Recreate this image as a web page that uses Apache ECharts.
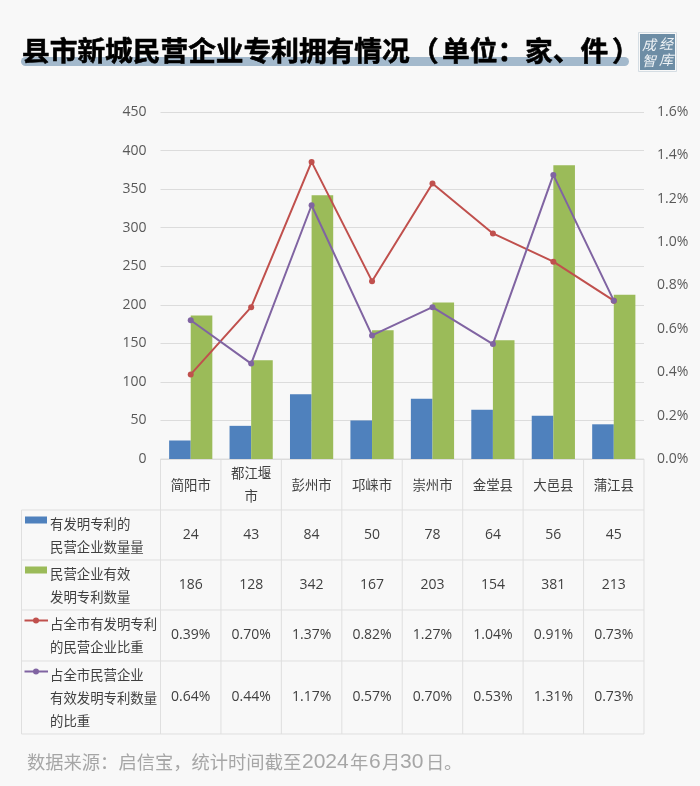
<!DOCTYPE html>
<html>

	<head>
		<meta charset="UTF-8">
		<title>县市新城民营企业专利拥有情况</title>
		<style type="text/css">
			html, body {
				margin: 0;
				padding: 0;
				background: #f8f8f8;
			}

			#basebox {
				width: 700px;
				height: 786px;
			}
		</style>
		<script src="https://cdn.jsdelivr.net/npm/echarts@6/dist/echarts.min.js"></script>
	</head>

	<body>
		<div id="basebox"></div>

		<script>
			// 图表数据
			var categories = ['简阳市', '都江堰\n市', '彭州市', '邛崃市', '崇州市', '金堂县', '大邑县', '蒲江县'];
			var firmCount = [24, 43, 84, 50, 78, 64, 56, 45];
			var patentCount = [186, 128, 342, 167, 203, 154, 381, 213];
			var firmShare = [0.39, 0.70, 1.37, 0.82, 1.27, 1.04, 0.91, 0.73];
			var patentShare = [0.64, 0.44, 1.17, 0.57, 0.70, 0.53, 1.31, 0.73];
			var seriesNames = ['有发明专利的民营企业数量量', '民营企业有效发明专利数量', '占全市有发明专利的民营企业比重', '占全市民营企业有效发明专利数量的比重'];

			// 表头文字（按原图换行）
			var rowHeads = [
				['有发明专利的', '民营企业数量量'],
				['民营企业有效', '发明专利数量'],
				['占全市有发明专利', '的民营企业比重'],
				['占全市民营企业', '有效发明专利数量', '的比重']
			];

			var BLUE = '#4f81bd', GREEN = '#9bbb59', RED = '#c0504d', PURPLE = '#8064a2';
			var FONT = '"Open Sans", "Noto Sans CJK SC", sans-serif';
			var CJK = '"Noto Sans CJK SC", sans-serif';

			// 布局
			var gridLeft = 160.5, gridRight = 644, gridTop = 112, gridBottom = 459;
			var tableLeft = 21.5;
			var rowLines = [510, 560, 610, 661, 734];
			var cellW = (gridRight - gridLeft) / categories.length;

			function pct(v) {
				return v.toFixed(2) + '%';
			}
			var rowCells = [
				firmCount.map(String),
				patentCount.map(String),
				firmShare.map(pct),
				patentShare.map(pct)
			];
			var rowColors = [BLUE, GREEN, RED, PURPLE];

			function hline(x1, x2, y) {
				return {type: 'line', silent: true, shape: {x1: x1, y1: y, x2: x2, y2: y}, style: {stroke: '#dfdfdf', lineWidth: 1}};
			}
			function vline(x, y1, y2) {
				return {type: 'line', silent: true, shape: {x1: x, y1: y1, x2: x, y2: y2}, style: {stroke: '#dfdfdf', lineWidth: 1}};
			}
			function label(x, y, text, fill, font, align) {
				return {type: 'text', silent: true, style: {x: x, y: y, text: text, fill: fill, font: font, textAlign: align || 'left', textVerticalAlign: 'middle'}};
			}

			var table = [];

			// 表格线
			table.push(hline(gridLeft, gridRight, gridBottom));
			rowLines.forEach(function(y) {
				table.push(hline(tableLeft, gridRight, y));
			});
			table.push(vline(tableLeft, rowLines[0], rowLines[4]));
			for (var c = 0; c <= categories.length; c++) {
				table.push(vline(gridLeft + c * cellW, gridBottom, rowLines[4]));
			}

			// 行头、图例和单元格
			rowHeads.forEach(function(lines, r) {
				var top = rowLines[r];
				var bottom = rowLines[r + 1];
				var firstY = top + 13.5;
				lines.forEach(function(line, i) {
					table.push(label(50, firstY + i * 23, line, '#404040', '13.4px ' + CJK));
				});
				if (r < 2) {
					table.push({type: 'rect', silent: true, shape: {x: 25, y: firstY - 7, width: 22, height: 7}, style: {fill: rowColors[r]}});
				} else {
					table.push({type: 'line', silent: true, shape: {x1: 24.5, y1: firstY - 3, x2: 48, y2: firstY - 3}, style: {stroke: rowColors[r], lineWidth: 2}});
					table.push({type: 'circle', silent: true, shape: {cx: 36, cy: firstY - 3, r: 3}, style: {fill: rowColors[r]}});
				}
				rowCells[r].forEach(function(val, k) {
					table.push(label(gridLeft + (k + 0.5) * cellW, (top + bottom) / 2, val, '#404040', '14px ' + FONT, 'center'));
				});
			});

			// 标题，括号两侧留空
			var titleFont = 'bold 27.7px ' + CJK;
			function titleText(x, text) {
				return {type: 'text', silent: true, style: {x: x, y: 50, text: text, fill: '#000', stroke: '#000', lineWidth: 0.6, font: titleFont, textVerticalAlign: 'middle'}};
			}
			var logoFont = 'italic 14px ' + CJK;
			var titleParts = [
				{type: 'rect', silent: true, shape: {x: 21, y: 57, width: 608, height: 9, r: 4.5}, style: {fill: '#a3b9cc'}},
				titleText(22, '县市新城民营企业专利拥有情况'),
				titleText(411, '（'),
				titleText(442, '单位：家、件'),
				titleText(612, '）'),
				{type: 'rect', silent: true, shape: {x: 638.5, y: 32.5, width: 38, height: 39}, style: {fill: 'none', stroke: '#d5dde3', lineWidth: 1}},
				{type: 'rect', silent: true, shape: {x: 640, y: 34, width: 35, height: 36}, style: {fill: '#6d8da5'}},
				label(649, 45, '成', '#eef2f5', logoFont, 'center'),
				label(666, 44, '经', '#eef2f5', logoFont, 'center'),
				label(649, 61, '智', '#eef2f5', logoFont, 'center'),
				label(666, 60, '库', '#eef2f5', logoFont, 'center')
			];

			// 数据来源，数字比汉字略大
			var noteCjk = '18.3px ' + CJK, noteNum = '21px "Liberation Sans", sans-serif';
			var notePieces = [
				[27, '数据来源：启信宝，统计时间截至', noteCjk],
				[302, '2024', noteNum],
				[350, '年', noteCjk],
				[369, '6', noteNum],
				[382, '月', noteCjk],
				[400, '30', noteNum],
				[426, '日', noteCjk],
				[444, '。', noteCjk]
			];
			notePieces.forEach(function(p) {
				titleParts.push(label(p[0], 762, p[1], '#a6a6a6', p[2]));
			});

			var basechart = echarts.init(document.getElementById('basebox'));

			var option = {
				animation: false,
				backgroundColor: '#f8f8f8',
				textStyle: {fontFamily: FONT},
				grid: {
					left: gridLeft,
					top: gridTop,
					width: gridRight - gridLeft,
					height: gridBottom - gridTop,
					containLabel: false
				},
				xAxis: {
					type: 'category',
					data: categories,
					axisLine: {show: false},
					axisTick: {show: false},
					axisLabel: {
						color: '#404040',
						fontSize: 13.4,
						fontFamily: CJK,
						lineHeight: 23,
						interval: 0,
						margin: 25.5,
						verticalAlign: 'middle'
					}
				},
				yAxis: [{
					type: 'value',
					min: 0,
					max: 450,
					interval: 50,
					axisLine: {show: false},
					axisTick: {show: false},
					axisLabel: {color: '#595959', fontSize: 14, margin: 14},
					splitLine: {lineStyle: {color: '#dcdcdc', width: 1}}
				}, {
					type: 'value',
					min: 0,
					max: 1.6,
					interval: 0.2,
					axisLine: {show: false},
					axisTick: {show: false},
					axisLabel: {
						color: '#595959',
						fontSize: 14,
						margin: 13,
						formatter: function(v) {
							return v.toFixed(1) + '%';
						}
					},
					splitLine: {show: false}
				}],
				series: [{
					name: seriesNames[0],
					type: 'bar',
					data: firmCount,
					barCategoryGap: '28.5%',
					barGap: 0,
					itemStyle: {color: BLUE}
				}, {
					name: seriesNames[1],
					type: 'bar',
					data: patentCount,
					itemStyle: {color: GREEN}
				}, {
					name: seriesNames[2],
					type: 'line',
					yAxisIndex: 1,
					data: firmShare,
					symbol: 'circle',
					symbolSize: 6,
					lineStyle: {color: RED, width: 2},
					itemStyle: {color: RED}
				}, {
					name: seriesNames[3],
					type: 'line',
					yAxisIndex: 1,
					data: patentShare,
					symbol: 'circle',
					symbolSize: 6,
					lineStyle: {color: PURPLE, width: 2},
					itemStyle: {color: PURPLE}
				}],
				graphic: titleParts.concat(table)
			};

			basechart.setOption(option);
		</script>
	</body>

</html>
